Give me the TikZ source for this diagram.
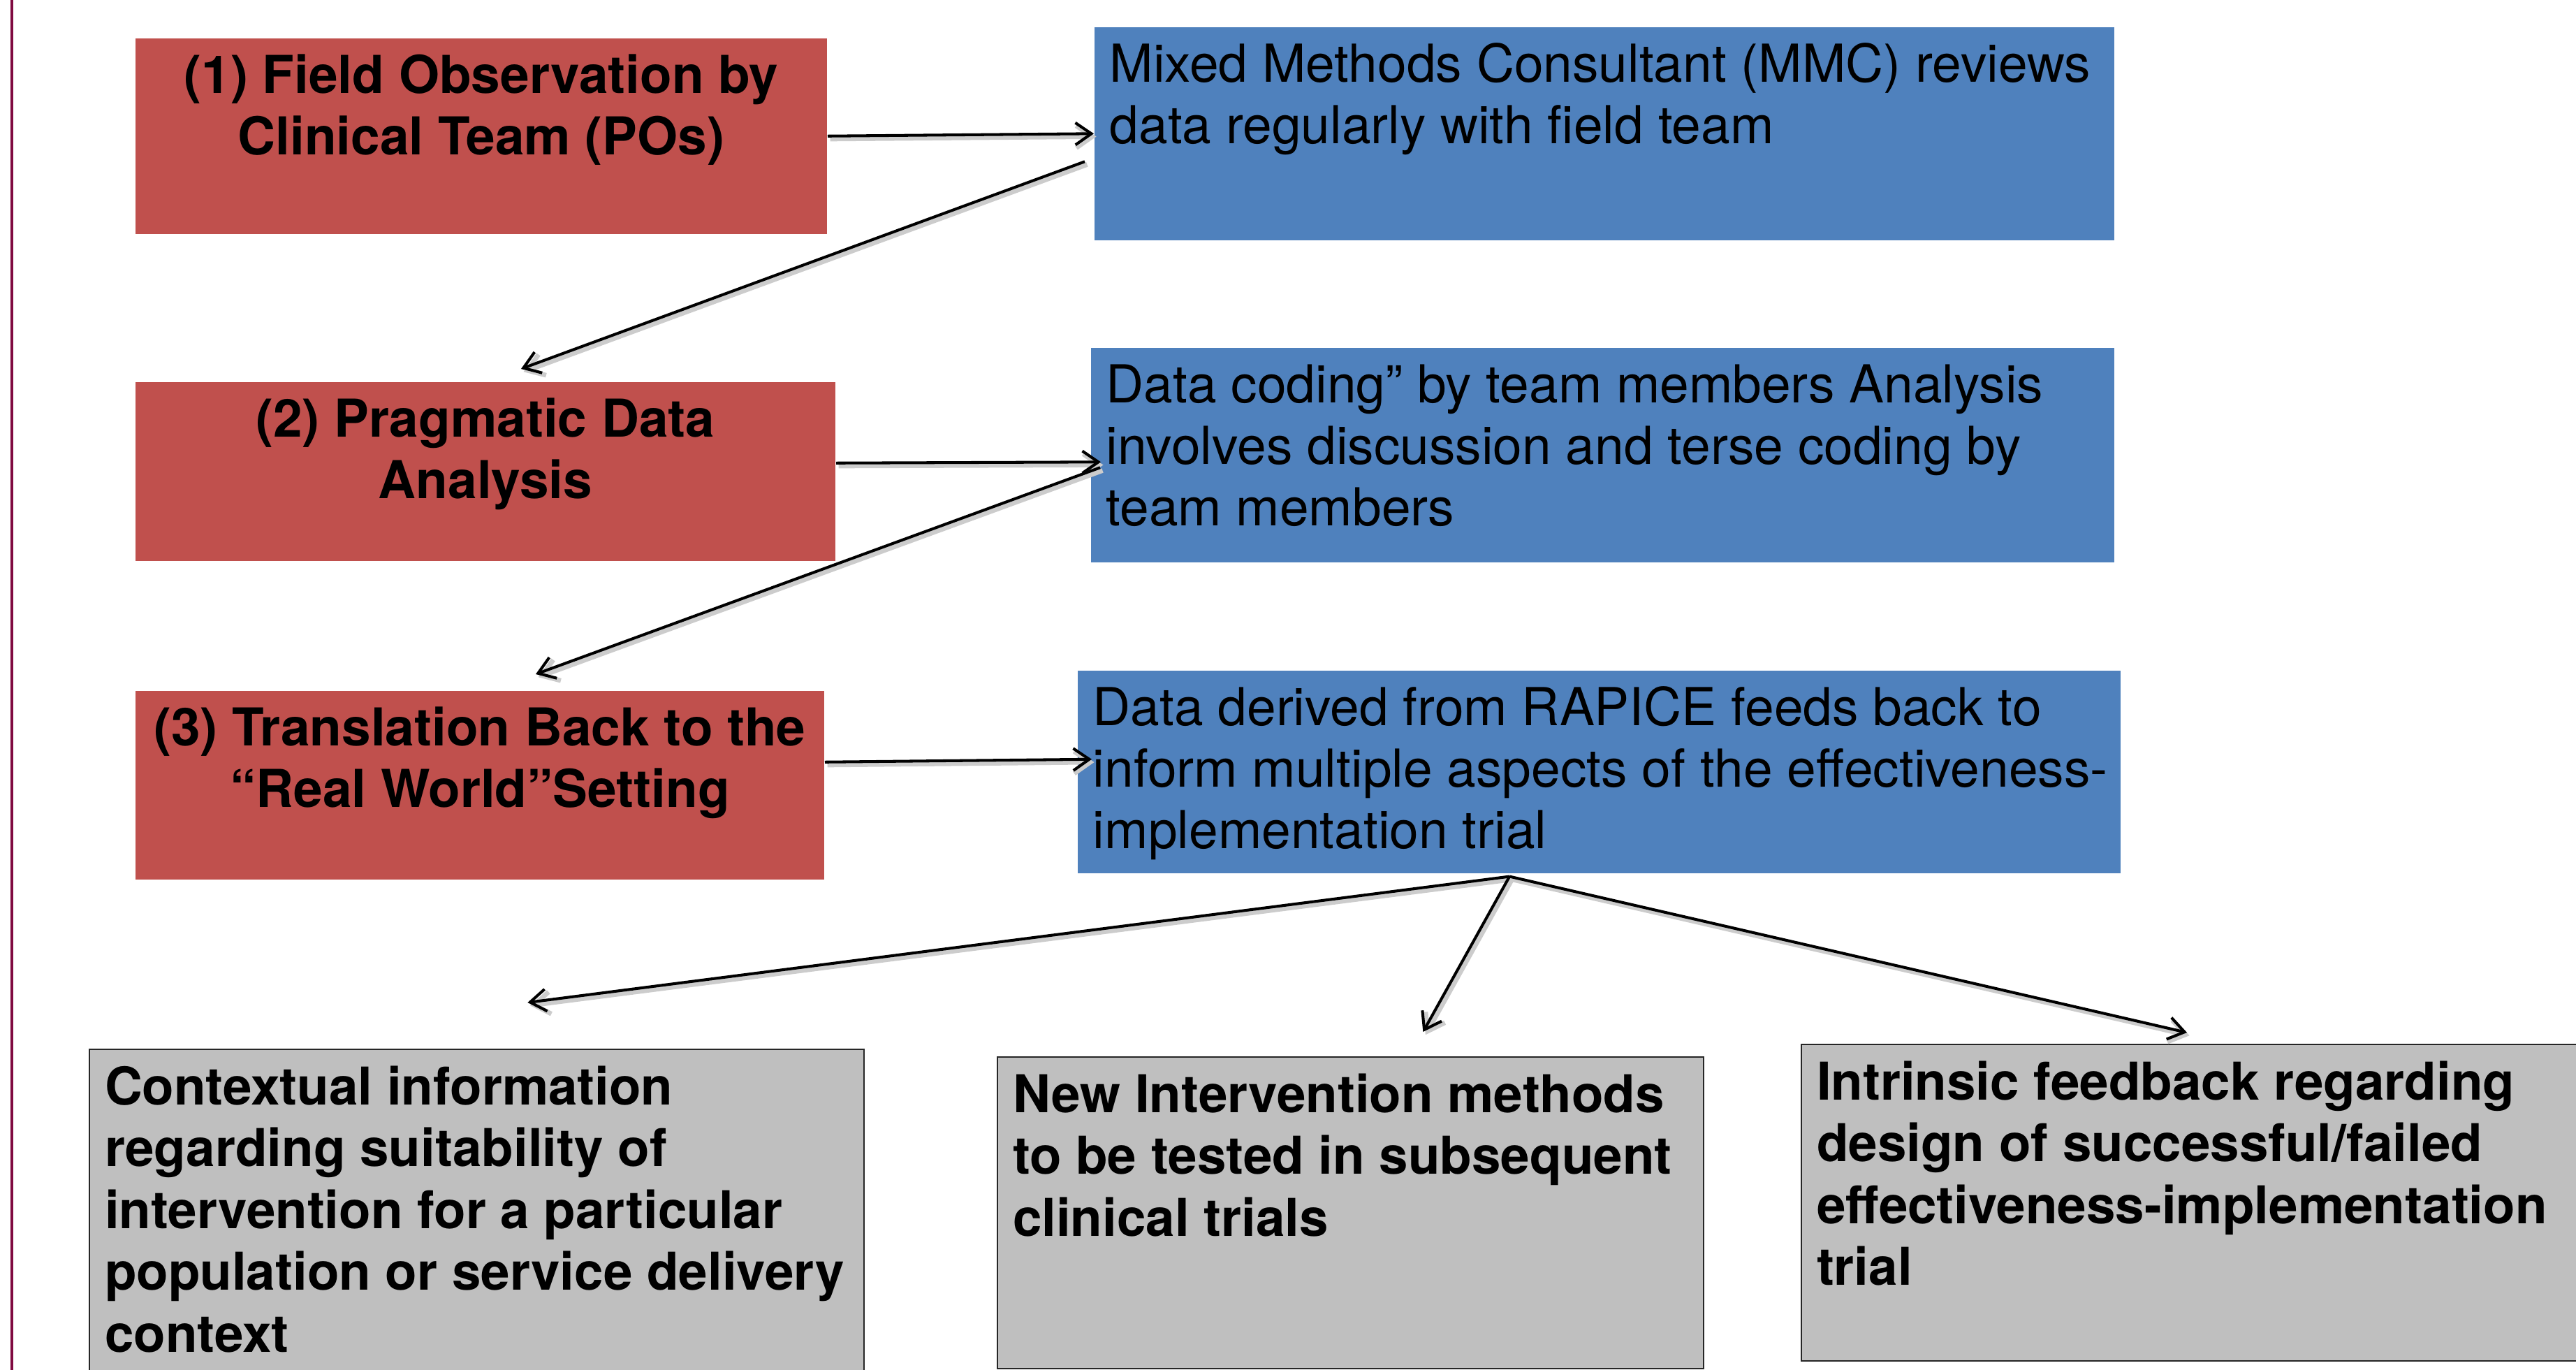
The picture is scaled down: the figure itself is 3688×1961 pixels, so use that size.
\documentclass[tikz,border=0pt]{standalone}
\usepackage{fontspec}
\setmainfont{TeX Gyre Heros}
\usepackage{tikz}
\usepackage{xcolor}
\usetikzlibrary{arrows.meta}

\definecolor{redfill}{HTML}{C0504D}
\definecolor{bluefill}{HTML}{4F81BD}
\definecolor{grayfill}{HTML}{BFBFBF}
\definecolor{framecol}{HTML}{800A40}

% text block of a box: width, height, lines (first baseline fixed)
\newcommand{\boxtext}[3]{\parbox[t][#2][t]{#1}{\leftskip=0.22cm\rightskip=0pt plus 1fil\rule{0pt}{0.79cm}#3}}

\begin{document}
\begin{tikzpicture}[x=0.01cm, y=-0.01cm,
    box/.style={inner sep=0pt, anchor=north west},
    redbox/.style={box, fill=redfill, font=\bfseries\fontsize{21.25}{25}\selectfont},
    bluebox/.style={box, fill=bluefill, font=\fontsize{21.3}{25}\selectfont},
    graybox/.style={box, fill=grayfill, draw=black!85, line width=0.6pt, font=\bfseries\fontsize{21.2}{25.2}\selectfont},
    arr/.style={line width=1.15pt, -{Straight Barb[length=6.5pt, width=9pt]},
        preaction={draw=black!20, line width=1.9pt, transform canvas={shift={(1pt,-1.2pt)}}}}]
                \useasboundingbox (0,0) rectangle (3688,1961);
                \draw[framecol, line width=1.2pt] (17,0) -- (17,1961);

                % the three steps
                \node[redbox] (r1) at (193,54) {\boxtext{9.90cm}{2.80cm}{\centering (1) Field Observation by\\ Clinical Team (POs)}};
                \node[redbox] (r2) at (193,546) {\boxtext{10.02cm}{2.56cm}{\centering (2) Pragmatic Data\\ Analysis}};
                \node[redbox] (r3) at (193,988) {\boxtext{9.86cm}{2.70cm}{\centering (3) Translation Back to the\\ “Real World”Setting}};

                % what goes on beside them
                \node[bluebox] (b1) at (1566,38) {\boxtext{14.59cm}{3.05cm}{Mixed Methods Consultant (MMC) reviews\\ data regularly with field team}};
                \node[bluebox] (b2) at (1561,497) {\boxtext{14.64cm}{3.07cm}{Data coding” by team members Analysis\\ involves discussion and terse coding by\\ team members}};
                \node[bluebox] (b3) at (1542,959) {\boxtext{14.92cm}{2.90cm}{Data derived from RAPICE feeds back to\\ inform multiple aspects of the effectiveness-\\ implementation trial}};

                % outcomes
                \node[graybox] (g1) at (127,1501) {\boxtext{11.08cm}{5.20cm}{Contextual information\\ regarding suitability of\\ intervention for a particular\\ population or service delivery\\ context}};
                \node[graybox] (g2) at (1427,1512) {\boxtext{10.10cm}{4.46cm}{New Intervention methods\\ to be tested in subsequent\\ clinical trials}};
                \node[graybox] (g3) at (2578,1494) {\boxtext{11.50cm}{4.53cm}{Intrinsic feedback regarding\\ design of successful/failed\\ effectiveness-implementation\\ trial}};

                \draw[arr] (r1.east) -- (b1.west);
                \draw[arr] ([shift={(-13,40)}]b1.west) -- ([shift={(51,-18)}]r2.north);
                \draw[arr] ([shift={(0,-12)}]r2.east) -- ([shift={(15,10)}]b2.west);
                \draw[arr] ([shift={(14,18)}]b2.west) -- ([shift={(80,-23)}]r3.north);
                \draw[arr] ([shift={(0,-33)}]r3.east) -- ([shift={(21,-18)}]b3.west);

                \coordinate (fork) at ([shift={(-128,4)}]b3.south);
                \draw[arr] (fork) -- ([shift={(73,-66)}]g1.north);
                \draw[arr] (fork) -- ([shift={(104,-35)}]g2.north);
                \draw[arr] (fork) -- ([shift={(553,-16)}]g3.north west);
\end{tikzpicture}
\end{document}
